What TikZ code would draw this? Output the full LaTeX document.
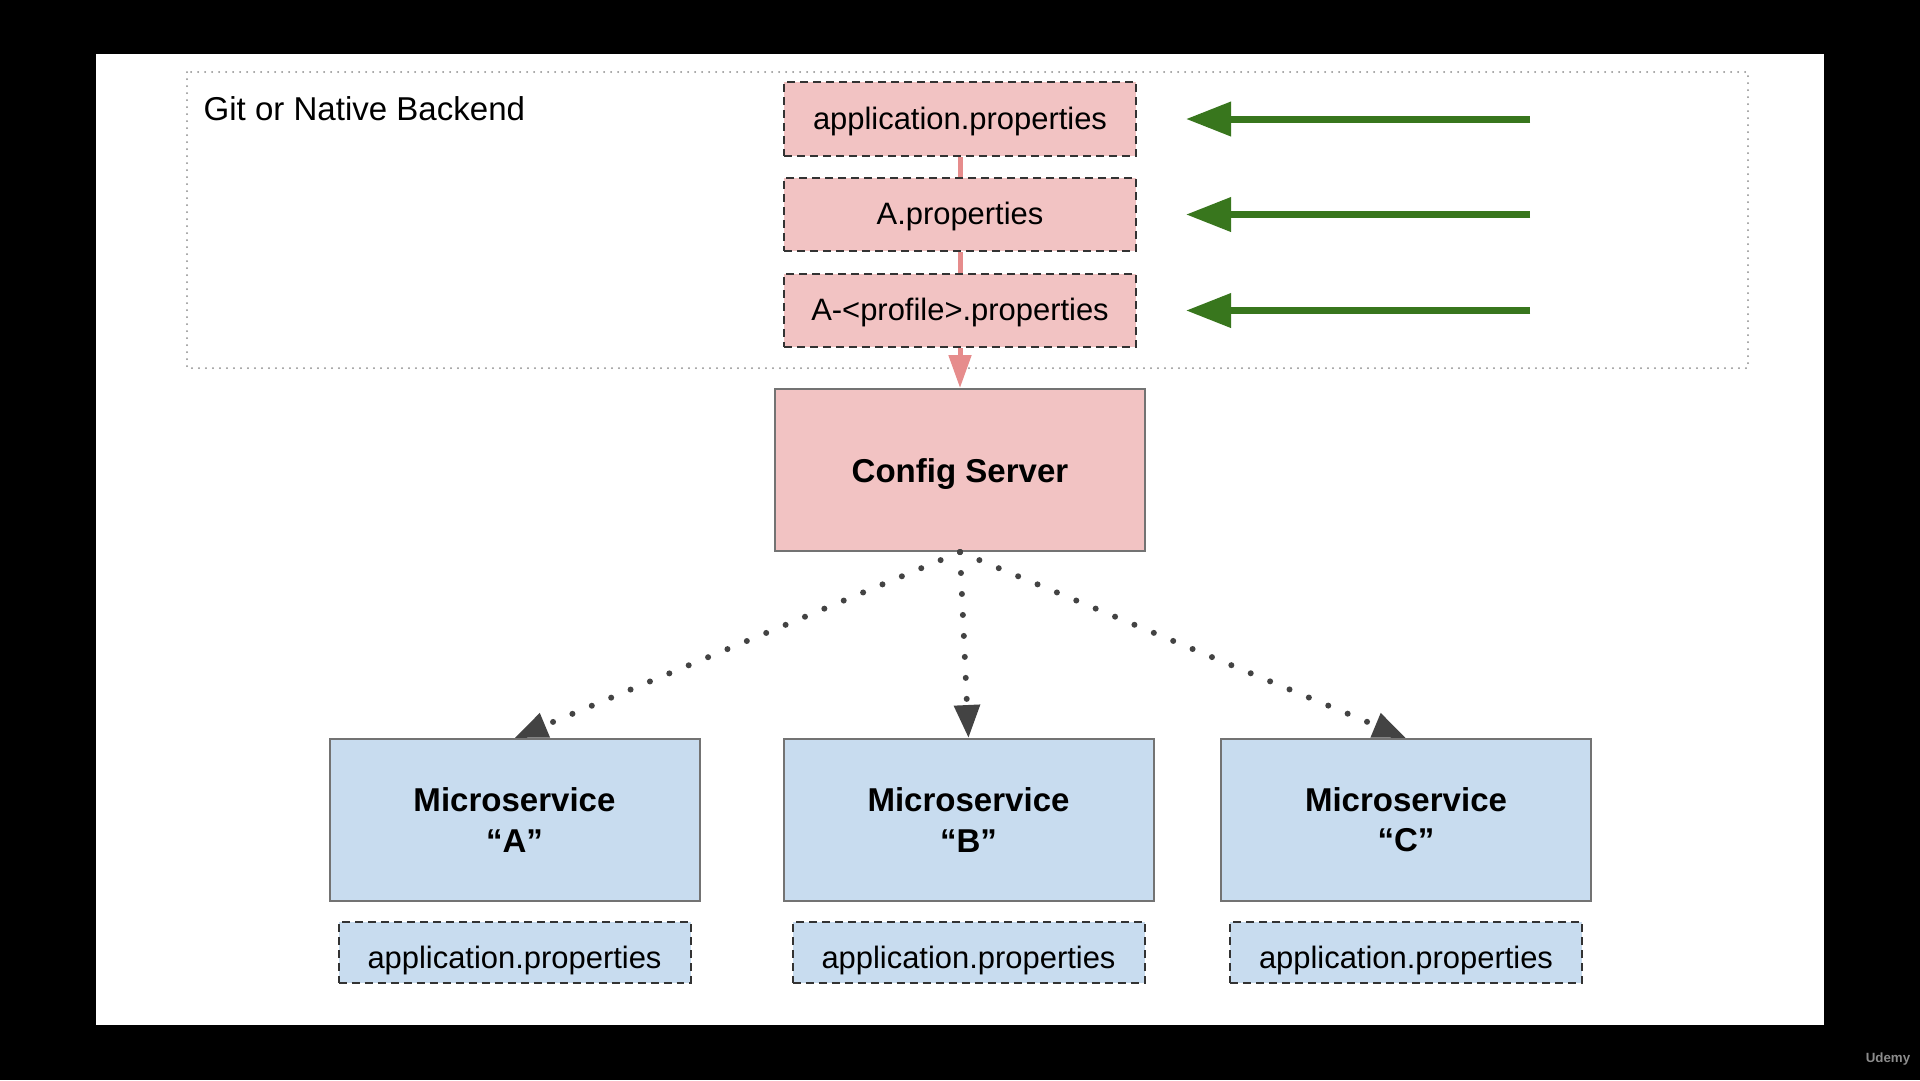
\documentclass[tikz,border=0pt]{standalone}
\usepackage{fontspec}
\setmainfont{Liberation Sans}
\usepackage{tikz}
\usetikzlibrary{arrows.meta}
\usetikzlibrary{positioning}

\definecolor{cfgpink}{HTML}{F2C3C3}
\definecolor{linkpink}{HTML}{E68C8C}
\definecolor{svcblue}{HTML}{C8DCEF}
\definecolor{pushgreen}{HTML}{38761D}
\definecolor{fetchgrey}{HTML}{434343}

\begin{document}
\begin{tikzpicture}[x=0.1mm, y=-0.1mm,
  propfile/.style={draw=black!80, line width=0.2mm, dash pattern=on 0.8mm off 0.5mm,
    minimum width=35.2mm, inner sep=0pt, font=\fontsize{8.8}{10}\selectfont},
  srvbox/.style={draw=black!55, line width=0.2mm, minimum width=37mm, minimum height=16.2mm,
    inner sep=0pt, align=center, font=\fontsize{9.4}{11.4}\selectfont\bfseries},
  link/.style={linkpink, line width=0.5mm},
  fetch/.style={fetchgrey, line width=0.6mm, line cap=round, dash pattern=on 0pt off 2.1mm,
    -{Triangle[length=3.3mm,width=2.5mm]}},
  push/.style={pushgreen, line width=0.7mm, -{Triangle[length=4.5mm,width=3.3mm]}}]

\useasboundingbox (0,0) rectangle (1920,1080);
\fill[black] (0,0) rectangle (1920,1080);
\fill[white] (96,54) rectangle (1824,1025);

% backend
\draw[black!45, line width=0.2mm, line cap=round, dash pattern=on 0pt off 0.7mm] (187,72) rectangle (1748,368);
\node[anchor=base west, inner sep=0pt, font=\fontsize{9.4}{11}\selectfont] (git) at (203,120) {Git or Native Backend};

\node[propfile, fill=cfgpink, minimum height=7.4mm, text height=2.7mm] (app) at (960,119) {application.properties};
\node[propfile, fill=cfgpink, minimum height=7.3mm, text height=2.7mm, below=2.0mm of app] (ap) {A.properties};
\node[propfile, fill=cfgpink, minimum height=7.3mm, text height=2.7mm, below=2.1mm of ap] (prof) {A-<profile>.properties};

\node[srvbox, fill=cfgpink, text height=3.1mm] (cs) at (960,470) {Config Server};

% clients
\foreach \n/\x/\c in {msa/514.5/A, msb/968.5/B, msc/1406/C}{
  \node[srvbox, fill=svcblue] (\n) at (\x,820) {Microservice\\“\c”};
  \node[propfile, fill=svcblue, minimum height=6.1mm, text height=3.75mm, below=1.9mm of \n] (\n p) {application.properties};
}

\draw[link] (app) -- (ap);
\draw[link] (ap) -- (prof);
\draw[link, -{Triangle[length=3.3mm,width=2.2mm]}] (prof) -- (cs);

\foreach \n in {msa,msb,msc}
  \draw[fetch] (cs.south) -- (\n.north);

\foreach \n in {app,ap,prof}
  \draw[push] ([xshift=39.3mm]\n.east) -- ([xshift=4.9mm]\n.east);

\node[text=black!45, font=\fontsize{3.8}{4}\selectfont\bfseries] (udemy) at (1888,1059) {Udemy};

\end{tikzpicture}
\end{document}
